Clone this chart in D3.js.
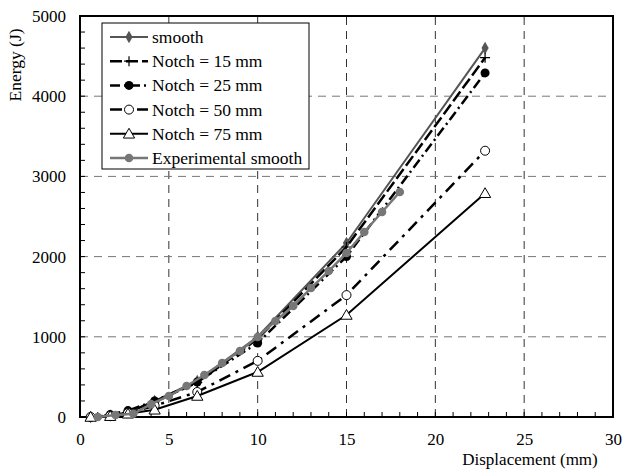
<!DOCTYPE html>
<html>
<head>
<meta charset="utf-8">
<script src="https://cdn.jsdelivr.net/npm/d3@7"></script>
<style>
  body { margin: 0; background: #fff; }
  svg text { font-family: "Liberation Serif", "Times New Roman", serif; fill: #000; }
</style>
</head>
<body>
<div id="chart"></div>
<script>
// model results (displacement in mm, energy in J)
const modelDisp = [0.6, 1.7, 2.7, 4.2, 6.6, 10, 15, 22.8];
const smoothE = [0, 20, 60, 200, 450, 1000, 2170, 4600];
const notch15E = [0, 20, 60, 190, 430, 975, 2120, 4480];
const notch25E = [0, 30, 80, 200, 436, 923, 2000, 4290];
const notch50E = [0, 15, 50, 140, 312, 700, 1520, 3320];
const notch75E = [0, 10, 40, 90, 262, 561, 1272, 2790];

// experiment
const expDisp = [1, 2, 3, 4, 5, 6, 7, 8, 9, 10, 11, 12, 13, 14, 15, 16, 17, 18];
const expE = [0, 25, 40, 160, 262, 386, 524, 673, 823, 998, 1197, 1384, 1608, 1820, 2045, 2307, 2556, 2805];

const xTicks = [0, 5, 10, 15, 20, 25, 30];
const yTicks = [0, 1000, 2000, 3000, 4000, 5000];

const series = [
  { name: "smooth", x: modelDisp, y: smoothE, color: "#555", width: 2, dash: null, marker: "diamond" },
  { name: "Notch = 15 mm", x: modelDisp, y: notch15E, color: "#000", width: 2.5, dash: "12,4", marker: "plus" },
  { name: "Notch = 25 mm", x: modelDisp, y: notch25E, color: "#000", width: 2.5, dash: "10,4,2,4", marker: "dot" },
  { name: "Notch = 50 mm", x: modelDisp, y: notch50E, color: "#000", width: 2.5, dash: "12,6,3,6", marker: "circle" },
  { name: "Notch = 75 mm", x: modelDisp, y: notch75E, color: "#000", width: 2, dash: null, marker: "triangle" },
  { name: "Experimental smooth", x: expDisp, y: expE, color: "#777", width: 2.5, dash: null, marker: "gdot" }
];

const W = 624, H = 470;
const svg = d3.select("#chart").append("svg").attr("width", W).attr("height", H);

const x = d3.scaleLinear().domain([0, 30]).range([80, 613]);
const y = d3.scaleLinear().domain([0, 5000]).range([417, 16]);

// grid
svg.append("g").selectAll("line").data(xTicks.slice(1, -1)).enter().append("line")
  .attr("x1", d => x(d)).attr("x2", d => x(d)).attr("y1", y(0)).attr("y2", y(5000))
  .attr("stroke", "#333").attr("stroke-width", 1).attr("stroke-dasharray", "8,6");
svg.append("g").selectAll("line").data(yTicks.slice(1, -1)).enter().append("line")
  .attr("x1", x(0)).attr("x2", x(30)).attr("y1", d => y(d)).attr("y2", d => y(d))
  .attr("stroke", "#777").attr("stroke-width", 1).attr("stroke-dasharray", "8,6");

// ticks, all pointing inside
svg.append("g").selectAll("line").data(d3.range(1, 30)).enter().append("line")
  .attr("x1", d => x(d)).attr("x2", d => x(d)).attr("y1", y(0)).attr("y2", y(0) - 5)
  .attr("stroke", "#000");
svg.append("g").selectAll("line").data(d3.range(200, 5000, 200)).enter().append("line")
  .attr("x1", x(0)).attr("x2", x(0) + 5).attr("y1", d => y(d)).attr("y2", d => y(d))
  .attr("stroke", "#000");

// axes (labels only)
const xAxis = svg.append("g").attr("transform", `translate(0,${y(0)})`)
  .call(d3.axisBottom(x).tickValues(xTicks).tickSize(0).tickPadding(16).tickFormat(d3.format("d")));
const yAxis = svg.append("g").attr("transform", `translate(${x(0)},0)`)
  .call(d3.axisLeft(y).tickValues(yTicks).tickSize(0).tickPadding(14).tickFormat(d3.format("d")));
[xAxis, yAxis].forEach(a => {
  a.select(".domain").remove();
  a.selectAll("line").remove();
  a.selectAll("text").attr("font-size", 17).attr("font-family", "Liberation Serif");
});

// frame
svg.append("rect").attr("x", x(0)).attr("y", y(5000))
  .attr("width", x(30) - x(0)).attr("height", y(0) - y(5000))
  .attr("fill", "none").attr("stroke", "#000").attr("stroke-width", 2);

// axis titles
svg.append("text").attr("x", 530).attr("y", 465).attr("text-anchor", "middle")
  .attr("font-size", 17).text("Displacement (mm)");
svg.append("text").attr("transform", "translate(21,65) rotate(-90)").attr("text-anchor", "middle")
  .attr("font-size", 17.5).text("Energy (J)");

function drawMarker(g, type, cx, cy, color) {
  if (type === "diamond") {
    g.append("path").attr("d", d3.symbol(d3.symbolDiamond, 45)())
      .attr("transform", `translate(${cx},${cy})`).attr("fill", color);
  } else if (type === "plus") {
    g.append("path").attr("d", `M${cx - 5},${cy}H${cx + 5}M${cx},${cy - 5}V${cy + 5}`)
      .attr("stroke", color).attr("stroke-width", 1.2);
  } else if (type === "dot") {
    g.append("circle").attr("cx", cx).attr("cy", cy).attr("r", 4.5).attr("fill", color);
  } else if (type === "circle") {
    g.append("circle").attr("cx", cx).attr("cy", cy).attr("r", 4.5)
      .attr("fill", "#fff").attr("stroke", color).attr("stroke-width", 1);
  } else if (type === "triangle") {
    g.append("path").attr("d", d3.symbol(d3.symbolTriangle, 55)())
      .attr("transform", `translate(${cx},${cy + 1})`)
      .attr("fill", "#fff").attr("stroke", color).attr("stroke-width", 1);
  } else if (type === "gdot") {
    g.append("circle").attr("cx", cx).attr("cy", cy).attr("r", 4.3).attr("fill", color);
  }
}

const line = d3.line().x(d => x(d[0])).y(d => y(d[1]));

series.forEach(s => {
  const pts = s.x.map((v, i) => [v, s.y[i]]);
  const g = svg.append("g");
  g.append("path").attr("d", line(pts)).attr("fill", "none")
    .attr("stroke", s.color).attr("stroke-width", s.width)
    .attr("stroke-dasharray", s.dash);
  pts.forEach(p => drawMarker(g, s.marker, x(p[0]), y(p[1]), s.color));
});

// legend
const lg = svg.append("g");
lg.append("rect").attr("x", 102).attr("y", 23).attr("width", 207).attr("height", 146)
  .attr("fill", "#fff").attr("stroke", "#000").attr("stroke-width", 1);
series.forEach((s, i) => {
  const cy = 37 + i * 24.2;
  lg.append("line").attr("x1", 110).attr("x2", 148).attr("y1", cy).attr("y2", cy)
    .attr("stroke", s.color).attr("stroke-width", s.width)
    .attr("stroke-dasharray", s.dash);
  drawMarker(lg, s.marker, 129, cy, s.color);
  lg.append("text").attr("x", 152).attr("y", cy + 6).attr("font-size", 17.5).text(s.name);
});
</script>
</body>
</html>
